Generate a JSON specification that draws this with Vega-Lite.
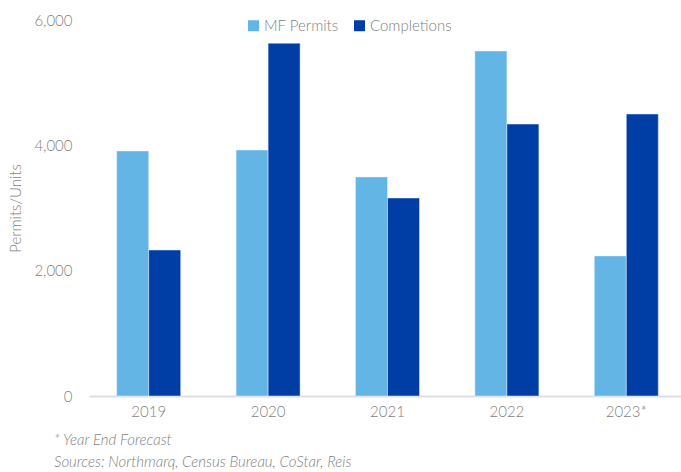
{
  "$schema": "https://vega.github.io/schema/vega-lite/v6.json",
  "autosize": "none",
  "width": 597,
  "height": 376,
  "padding": {"left": 89, "top": 20, "right": 0, "bottom": 76},
  "background": "white",
  "config": {
    "view": {"stroke": null},
    "font": "Lato"
  },
  "title": {
    "text": ["* Year End Forecast", "Sources: Northmarq, Census Bureau, CoStar, Reis"],
    "orient": "bottom",
    "anchor": "start",
    "frame": "group",
    "dx": -35,
    "offset": 14,
    "fontSize": 15,
    "fontStyle": "italic",
    "fontWeight": 300,
    "color": "#7f7f7f",
    "lineHeight": 22,
    "font": "Lato"
  },
  "data": {
    "values": [
      {"year": "2019", "series": "MF Permits", "value": 3910},
      {"year": "2019", "series": "Completions", "value": 2330},
      {"year": "2020", "series": "MF Permits", "value": 3925},
      {"year": "2020", "series": "Completions", "value": 5630},
      {"year": "2021", "series": "MF Permits", "value": 3495},
      {"year": "2021", "series": "Completions", "value": 3160},
      {"year": "2022", "series": "MF Permits", "value": 5505},
      {"year": "2022", "series": "Completions", "value": 4340},
      {"year": "2023*", "series": "MF Permits", "value": 2235},
      {"year": "2023*", "series": "Completions", "value": 4500}
    ]
  },
  "mark": {"type": "bar", "stroke": "#e8f0fa", "strokeWidth": 0.5},
  "encoding": {
    "x": {
      "field": "year",
      "type": "nominal",
      "sort": ["2019", "2020", "2021", "2022", "2023*"],
      "scale": {"paddingInner": 0.464, "paddingOuter": 0.232},
      "axis": {
        "title": null,
        "labelAngle": 0,
        "ticks": false,
        "domainColor": "#dddded",
        "domainWidth": 2,
        "labelPadding": 8,
        "labelFontSize": 15,
        "labelColor": "#7f7f7f",
        "labelFontWeight": 300
      }
    },
    "xOffset": {
      "field": "series",
      "type": "nominal",
      "sort": ["MF Permits", "Completions"]
    },
    "y": {
      "field": "value",
      "type": "quantitative",
      "scale": {"domain": [0, 6000]},
      "axis": {
        "title": "Permits/Units",
        "values": [0, 2000, 4000, 6000],
        "format": ",.0f",
        "grid": false,
        "domain": false,
        "ticks": false,
        "labelPadding": 17,
        "labelFontSize": 15,
        "labelColor": "#7f7f7f",
        "labelFontWeight": 300,
        "titleFontSize": 15,
        "titleFontWeight": 300,
        "titleColor": "#7f7f7f",
        "titlePadding": 10
      }
    },
    "color": {
      "field": "series",
      "type": "nominal",
      "sort": ["MF Permits", "Completions"],
      "scale": {"domain": ["MF Permits", "Completions"], "range": ["#62b5e5", "#003da5"]},
      "legend": {
        "title": null,
        "orient": "none",
        "direction": "horizontal",
        "legendX": 157,
        "legendY": -2,
        "symbolType": "square",
        "symbolSize": 121,
        "symbolStrokeWidth": 0,
        "labelFontSize": 15,
        "labelColor": "#7f7f7f",
        "labelFontWeight": 300,
        "columnPadding": 13,
        "labelOffset": 3
      }
    }
  }
}
